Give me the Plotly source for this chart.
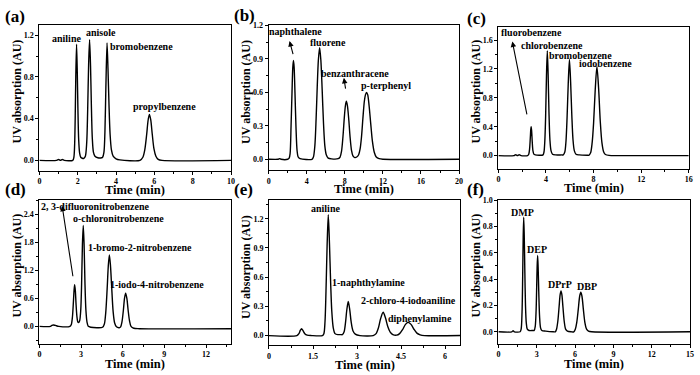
import plotly.graph_objects as go

# ---------------- data ----------------
# (a)
t_a = [0, 0.9, 1.0, 1.1, 1.2, 1.3, 1.74, 1.80, 1.84, 1.87, 1.90, 1.94, 1.98, 2.01, 2.05, 2.10, 2.16, 2.24,
       2.32, 2.40, 2.47, 2.52, 2.57, 2.62, 2.67, 2.71, 2.76, 2.82, 2.90, 3.05, 3.25,
       3.30, 3.37, 3.42, 3.47, 3.53, 3.58, 3.63, 3.69, 3.76, 3.85, 4.0, 4.2,
       5.25, 5.40, 5.50, 5.60, 5.67, 5.74, 5.81, 5.89, 5.98, 6.08, 6.20, 6.4, 10]
y_a = [0, 0, 0.008, 0, 0.008, 0, 0, 0.03, 0.15, 0.42, 0.80, 1.115, 0.82, 0.50, 0.20, 0.07, 0.03, 0.02,
       0.02, 0.04, 0.17, 0.48, 0.92, 1.156, 0.90, 0.55, 0.22, 0.08, 0.04, 0.025, 0.025,
       0.03, 0.08, 0.27, 0.70, 1.125, 0.88, 0.55, 0.25, 0.10, 0.04, 0.015, 0.005,
       0, 0.03, 0.10, 0.25, 0.38, 0.44, 0.39, 0.25, 0.11, 0.04, 0.01, 0, 0]
labels_a = ["aniline", "anisole", "bromobenzene", "propylbenzene"]

# (b)
t_b = [0, 1.0, 1.15, 1.3, 2.0, 2.15, 2.25, 2.35, 2.45, 2.53, 2.6, 2.67, 2.76, 2.87, 2.98, 3.1, 3.3,
       4.55, 4.7, 4.85, 4.98, 5.1, 5.22, 5.35, 5.48, 5.62, 5.76, 5.9, 6.05, 6.25, 6.6,
       7.3, 7.5, 7.65, 7.8, 7.95, 8.06, 8.16, 8.27, 8.4, 8.55, 8.7, 8.85, 9.05, 9.25,
       9.45, 9.6, 9.75, 9.9, 10.05, 10.17, 10.28, 10.4, 10.55, 10.72, 10.9, 11.1, 11.3, 11.6, 12.0, 20]
y_b = [0, 0, 0.006, 0, 0, 0.01, 0.05, 0.30, 0.60, 0.82, 0.886, 0.83, 0.60, 0.28, 0.08, 0.02, 0.005,
       0, 0.02, 0.12, 0.36, 0.65, 0.89, 1.0, 0.89, 0.62, 0.32, 0.12, 0.04, 0.01, 0.003,
       0.005, 0.02, 0.07, 0.20, 0.38, 0.48, 0.52, 0.48, 0.37, 0.20, 0.08, 0.03, 0.015, 0.02,
       0.04, 0.09, 0.20, 0.37, 0.52, 0.58, 0.60, 0.58, 0.48, 0.32, 0.16, 0.06, 0.02, 0.005, 0, 0]
labels_b = ["naphthalene", "fluorene", "benzanthracene", "p-terphenyl"]

# (c)
t_c = [0, 1.3, 1.45, 1.6, 1.75, 1.9, 2.45, 2.55, 2.62, 2.68, 2.72, 2.75, 2.79, 2.84, 2.90, 2.98, 3.1, 3.5, 3.75,
       3.83, 3.90, 3.97, 4.04, 4.11, 4.18, 4.25, 4.33, 4.42, 4.55, 4.8, 5.3,
       5.45, 5.58, 5.68, 5.77, 5.87, 5.97, 6.07, 6.17, 6.27, 6.38, 6.52, 6.8, 7.5,
       7.6, 7.75, 7.88, 8.0, 8.14, 8.28, 8.42, 8.56, 8.7, 8.85, 9.0, 9.3, 10, 16]
y_c = [0, 0, 0.012, 0, 0.012, 0, 0, 0.02, 0.09, 0.24, 0.36, 0.40, 0.35, 0.20, 0.07, 0.02, 0.01, 0.005, 0.01,
       0.05, 0.20, 0.55, 1.10, 1.45, 1.12, 0.60, 0.22, 0.07, 0.02, 0.01, 0.01,
       0.01, 0.05, 0.20, 0.52, 1.0, 1.33, 1.02, 0.56, 0.22, 0.07, 0.02, 0.01, 0.005,
       0.005, 0.04, 0.18, 0.45, 0.92, 1.23, 0.94, 0.48, 0.18, 0.05, 0.015, 0.003, 0, 0]
labels_c = ["fluorobenzene", "chlorobenzene", "bromobenzene", "iodobenzene"]

# (d)
t_d = [0, 0.8, 0.9, 1.0, 1.15, 1.4, 2.2, 2.3, 2.38, 2.45, 2.5, 2.54, 2.59, 2.64, 2.70, 2.76, 2.82,
       2.9, 2.98, 3.04, 3.10, 3.16, 3.22, 3.28, 3.35, 3.43, 3.52, 3.7, 4.2, 4.55,
       4.68, 4.78, 4.88, 4.96, 5.04, 5.12, 5.21, 5.31, 5.42, 5.55, 5.75,
       5.85, 5.95, 6.05, 6.13, 6.21, 6.30, 6.39, 6.49, 6.6, 6.8, 7.2, 13.8]
y_d = [0, 0, 0.02, 0.03, 0.02, 0, 0, 0.04, 0.20, 0.52, 0.78, 0.89, 0.76, 0.48, 0.22, 0.10, 0.08,
       0.12, 0.35, 0.90, 1.75, 2.16, 1.75, 0.95, 0.35, 0.09, 0.0, -0.02, -0.03, -0.02,
       0.05, 0.30, 0.80, 1.28, 1.53, 1.30, 0.82, 0.32, 0.07, -0.01, -0.03,
       -0.01, 0.10, 0.35, 0.60, 0.71, 0.60, 0.35, 0.12, 0.0, -0.04, -0.05, -0.05]
labels_d = ["2, 3-difluoronitrobenzene", "o-chloronitrobenzene", "1-bromo-2-nitrobenzene", "1-iodo-4-nitrobenzene"]

# (e)
t_e = [0, 0.95, 1.02, 1.07, 1.11, 1.16, 1.22, 1.3, 1.45, 1.82, 1.87, 1.91, 1.95, 1.98, 2.02, 2.06, 2.10, 2.14,
       2.19, 2.25, 2.35, 2.45, 2.5, 2.56, 2.61, 2.65, 2.70, 2.75, 2.80, 2.86, 2.94, 3.1, 3.55,
       3.65, 3.73, 3.80, 3.89, 3.97, 4.05, 4.13, 4.22, 4.35,
       4.45, 4.55, 4.65, 4.74, 4.84, 4.94, 5.04, 5.15, 5.3, 6.52]
y_e = [0, 0, 0.02, 0.055, 0.07, 0.05, 0.02, 0.005, 0, 0, 0.02, 0.15, 0.55, 0.92, 1.24, 0.95, 0.55, 0.25,
       0.08, 0.02, 0.01, 0.01, 0.01, 0.04, 0.14, 0.26, 0.35, 0.27, 0.14, 0.05, 0.015, 0, 0,
       0.02, 0.08, 0.17, 0.24, 0.18, 0.09, 0.035, 0.01, 0.004,
       0.02, 0.06, 0.115, 0.136, 0.115, 0.065, 0.025, 0.008, 0, 0]
labels_e = ["aniline", "1-naphthylamine", "2-chloro-4-iodoaniline", "diphenylamine"]

# (f)
t_f = [0, 1.05, 1.15, 1.25, 1.7, 1.78, 1.85, 1.90, 1.94, 1.98, 2.02, 2.07, 2.12, 2.18, 2.26, 2.4, 2.7,
       2.8, 2.88, 2.95, 3.0, 3.03, 3.07, 3.11, 3.16, 3.22, 3.3, 3.4, 3.7, 4.3,
       4.45, 4.55, 4.65, 4.75, 4.83, 4.9, 4.97, 5.05, 5.15, 5.26, 5.4, 5.7,
       5.9, 6.02, 6.13, 6.25, 6.36, 6.45, 6.54, 6.65, 6.77, 6.9, 7.05, 7.3, 15]
y_f = [0, 0, 0.008, 0, 0, 0.02, 0.15, 0.42, 0.72, 0.87, 0.74, 0.45, 0.20, 0.07, 0.02, 0.01, 0.01,
       0.01, 0.04, 0.16, 0.36, 0.49, 0.58, 0.49, 0.30, 0.12, 0.03, 0.01, 0.005, 0,
       0, 0.02, 0.08, 0.19, 0.28, 0.31, 0.28, 0.19, 0.08, 0.02, 0.005, 0,
       0, 0.02, 0.07, 0.17, 0.27, 0.30, 0.27, 0.17, 0.07, 0.02, 0.005, 0, 0]
labels_f = ["DMP", "DEP", "DPrP", "DBP"]

panel_letters = ["(a)", "(b)", "(c)", "(d)", "(e)", "(f)"]
x_title = "Time (min)"
y_title = "UV absorption (AU)"

# ---------------- layout ----------------
FONT = "Liberation Serif"
W, H = 700, 375

# pixel boxes: (left, right, top, bottom)
boxes = [
    (37.7, 231.0, 21.0, 168.6),
    (269.0, 461.0, 21.7, 168.2),
    (500.7, 692.7, 23.3, 166.4),
    (37.7, 231.0, 198.3, 343.3),
    (269.3, 462.3, 198.3, 345.0),
    (500.7, 694.0, 198.3, 343.3),
]
xranges = [[0, 10], [0, 20], [0, 16], [0, 13.8], [0, 6.52], [0, 15]]
yranges = [[-0.1, 1.3], [-0.1, 1.2], [-0.18, 1.78], [-0.37, 2.70], [-0.1, 1.39], [-0.09, 1.0]]
xdticks = [2, 4, 4, 3, 1.5, 3]
ydticks = [0.4, 0.3, 0.4, 0.6, 0.3, 0.2]
xtitle_gap = [19, 19, 20, 21, 20, 21]

series = [(t_a, y_a), (t_b, y_b), (t_c, y_c), (t_d, y_d), (t_e, y_e), (t_f, y_f)]

fig = go.Figure()
layout = dict(
    width=W, height=H, autosize=False,
    margin=dict(l=0, r=0, t=0, b=0),
    paper_bgcolor="white", plot_bgcolor="white",
    showlegend=False,
    font=dict(family=FONT, color="black"),
)

for i, (tt, yy) in enumerate(series):
    n = "" if i == 0 else str(i + 1)
    fig.add_trace(go.Scatter(x=tt, y=yy, mode="lines",
                             line=dict(color="black", width=1.4, shape="spline", smoothing=0.8),
                             xaxis="x" + n, yaxis="y" + n, hoverinfo="skip"))
    l, r, t, b = boxes[i]
    common = dict(showline=True, linecolor="black", linewidth=1, mirror=True,
                  ticks="outside", ticklen=3, tickwidth=1, tickcolor="black",
                  showgrid=False, zeroline=False,
                  tickfont=dict(family=FONT, size=8, color="black", weight="bold"))
    layout["xaxis" + n] = dict(domain=[l / W, r / W], anchor="y" + n, range=xranges[i],
                               tick0=0, dtick=xdticks[i],
                               minor=dict(ticks="outside", ticklen=2, tickcolor="black",
                                          dtick=xdticks[i] / 2, tick0=0),
                               **common)
    layout["yaxis" + n] = dict(domain=[1 - b / H, 1 - t / H], anchor="x" + n, range=yranges[i],
                               tick0=0, dtick=ydticks[i], tickformat=".1f",
                               minor=dict(ticks="outside", ticklen=2, tickcolor="black",
                                          dtick=ydticks[i] / 2, tick0=0),
                               **common)

fig.update_layout(**layout)

ann = []
LBL = dict(family=FONT, size=10, color="black", weight="bold")


def add_labels(n, names, xs, ys):
    for name, x, y in zip(names, xs, ys):
        ann.append(dict(text=name, x=x, y=y, xref="x" + n, yref="y" + n, showarrow=False,
                        font=LBL, xanchor="center", yanchor="middle"))


add_labels("", labels_a, [1.43, 3.2, 5.32, 6.53], [1.17, 1.225, 1.09, 0.52])
add_labels("2", labels_b, [2.8, 6.2, 9.1, 12.3], [1.15, 1.05, 0.77, 0.66])
add_labels("3", labels_c, [2.75, 4.5, 6.9, 9.0], [1.70, 1.53, 1.39, 1.27])
add_labels("4", labels_d, [4.04, 5.72, 7.27, 8.5], [2.56, 2.30, 1.69, 0.89])
add_labels("5", labels_e, [1.94, 3.38, 4.74, 5.15], [1.30, 0.54, 0.357, 0.18])
add_labels("6", labels_f, [1.92, 3.0, 4.8, 6.9], [0.91, 0.625, 0.36, 0.345])


def arrow(n, hx, hy, tx, ty):
    ann.append(dict(text="", x=hx, y=hy, ax=tx, ay=ty, xref="x" + n, yref="y" + n,
                    axref="x" + n, ayref="y" + n, showarrow=True, arrowhead=2,
                    arrowsize=1, arrowwidth=1.1, arrowcolor="black"))


arrow("2", 2.19, 1.06, 2.6, 0.93)
arrow("2", 7.9, 0.73, 8.1, 0.62)
arrow("3", 1.17, 1.58, 2.42, 0.55)
arrow("4", 1.64, 2.58, 2.43, 1.04)

# axis titles and panel letters (paper coordinates)
letter_pos = [(1, 13), (232, 12), (467, 15), (1, 188), (232, 188), (467, 188)]
for i, (l, r, t, b) in enumerate(boxes):
    cx = (l + r) / 2
    xt_y = b + xtitle_gap[i]
    ann.append(dict(text=x_title, x=cx / W, y=1 - xt_y / H, xref="paper", yref="paper",
                    showarrow=False, xanchor="center", yanchor="middle",
                    font=dict(family=FONT, size=12.5, color="black", weight="bold")))
    ann.append(dict(text=y_title, x=(l - 23) / W, y=1 - ((t + b) / 2 - 6) / H, xref="paper", yref="paper",
                    showarrow=False, xanchor="center", yanchor="middle", textangle=-90,
                    font=dict(family=FONT, size=12, color="black", weight="bold")))
    lx, ly = letter_pos[i]
    ann.append(dict(text=panel_letters[i], x=lx / W, y=1 - ly / H, xref="paper", yref="paper",
                    showarrow=False, xanchor="left", yanchor="middle",
                    font=dict(family=FONT, size=17, color="black", weight="bold")))

fig.update_layout(annotations=ann)
fig.write_html("out.html", config={"displayModeBar": False},
               post_script="document.body.style.margin='0';document.body.style.overflow='hidden';")
